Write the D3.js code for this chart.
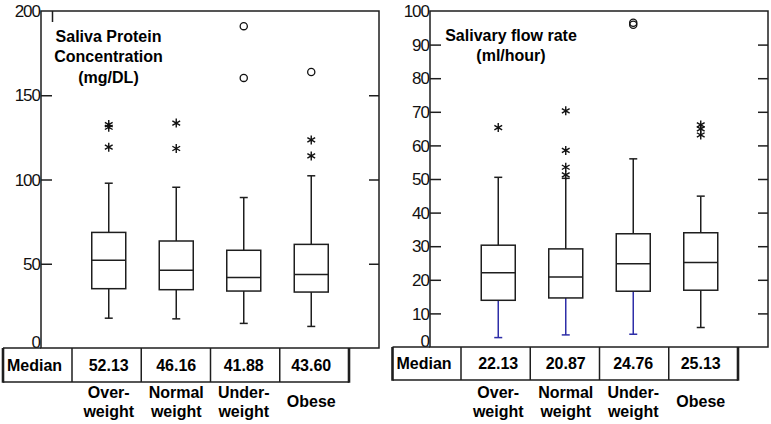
<!DOCTYPE html>
<html><head><meta charset="utf-8">
<script src="https://cdn.jsdelivr.net/npm/d3@7"></script>
<style>body{margin:0;background:#fff}svg{display:block}</style>
</head><body><svg id="chart" width="771" height="424"></svg>
<script>
// ---------- data ----------
const categories = ["Overweight", "Normal weight", "Underweight", "Obese"];
const categoryLines = [["Over-", "weight"], ["Normal", "weight"], ["Under-", "weight"], ["Obese"]];

const proteinTitle = ["Saliva Protein", "Concentration", "(mg/DL)"];
const proteinTicks = [0, 50, 100, 150, 200];
const proteinLow = [17.7, 17.3, 14.6, 12.8];
const proteinQ1 = [35.2, 34.6, 33.8, 33.2];
const proteinMedian = [52.13, 46.16, 41.88, 43.60];
const proteinQ3 = [68.6, 63.5, 58.0, 61.5];
const proteinHigh = [97.8, 95.4, 89.3, 102.2];
const proteinStars = [[132.6, 131.0, 119.2], [133.5, 118.4], [], [123.5, 114.0]];
const proteinCircles = [[], [], [191.0, 160.3], [163.8]];
const proteinMedianLabels = ["52.13", "46.16", "41.88", "43.60"];

const flowTitle = ["Salivary flow rate", "(ml/hour)"];
const flowTicks = [0, 10, 20, 30, 40, 50, 60, 70, 80, 90, 100];
const flowLow = [2.8, 3.6, 3.8, 5.8];
const flowQ1 = [13.9, 14.6, 16.6, 16.9];
const flowMedian = [22.13, 20.87, 24.76, 25.13];
const flowQ3 = [30.3, 29.2, 33.7, 34.0];
const flowHigh = [50.5, 50.2, 56.0, 44.9];
const flowStars = [[65.3], [70.3, 58.5, 53.5, 51.2], [], [66.1, 64.9, 63.1]];
const flowCircles = [[], [], [96.5, 95.9], []];
const flowMedianLabels = ["22.13", "20.87", "24.76", "25.13"];

const medianRowLabel = "Median";

// ---------- drawing ----------
const svg = d3.select("#chart");
const FONT = "'Liberation Sans', Arial, Helvetica, sans-serif";
const INK = "#1e1e1e";
const BLUE = "#2e2ea8";

const asterisk = {
  draw(ctx, size) {
    const r = Math.sqrt(size) * 0.6;
    const t = r / 2, u = t * Math.sqrt(3);
    ctx.moveTo(0, r); ctx.lineTo(0, -r);
    ctx.moveTo(-u, -t); ctx.lineTo(u, t);
    ctx.moveTo(-u, t); ctx.lineTo(u, -t);
  }
};

function drawPanel(cfg) {
  const g = svg.append("g");
  const y = d3.scaleLinear().domain(cfg.domain).range([cfg.yBot, cfg.yTop]);
  const x = d3.scaleBand().domain(categories).range(cfg.boxRange);
  const cx = c => x(c) + x.bandwidth() / 2;
  const tx = d3.scaleBand().domain(categories).range(cfg.tableRange);

  // frame
  g.append("rect").attr("x", cfg.x0).attr("y", cfg.yTop)
    .attr("width", cfg.x1 - cfg.x0).attr("height", cfg.yBot - cfg.yTop)
    .attr("fill", "none").attr("stroke", INK).attr("stroke-width", 1.5);

  // axis ticks (inside) + labels
  const inner = cfg.ticks.filter(t => t !== cfg.domain[0] && t !== cfg.domain[1]);
  const leftAxis = d3.axisRight(y).tickValues(inner).tickSize(11).tickFormat("");
  const la = g.append("g").attr("transform", `translate(${cfg.x0},0)`).call(leftAxis);
  const rightAxis = d3.axisLeft(y).tickValues(inner).tickSize(10).tickFormat("");
  const ra = g.append("g").attr("transform", `translate(${cfg.x1},0)`).call(rightAxis);
  [la, ra].forEach(a => {
    a.select(".domain").remove();
    a.selectAll("line").attr("stroke", INK).attr("stroke-width", 1.5);
  });
  if (cfg.topTick) {
    g.append("line").attr("x1", cfg.topTick).attr("x2", cfg.topTick)
      .attr("y1", cfg.yTop).attr("y2", cfg.yTop + 11)
      .attr("stroke", INK).attr("stroke-width", 1.5);
  }
  g.append("g").selectAll("text").data(cfg.ticks).join("text")
    .attr("x", cfg.x0 - 1)
    .attr("y", d => y(d) + (d === cfg.domain[0] ? -6 : 0))
    .attr("dy", "0.36em")
    .attr("text-anchor", "end")
    .attr("font-family", FONT).attr("font-size", 17).attr("letter-spacing", -1)
    .attr("fill", "#111")
    .text(d => d);

  // title
  g.append("text").attr("font-family", FONT).attr("font-weight", "bold")
    .attr("font-size", 16).attr("fill", "#000").attr("text-anchor", "middle")
    .selectAll("tspan").data(cfg.title).join("tspan")
    .attr("x", cfg.titleX).attr("y", (d, i) => cfg.titleY + i * cfg.titleStep)
    .text(d => d);

  // boxes
  const boxW = 34, capW = 8;
  const data = categories.map((c, i) => ({
    c, i, low: cfg.low[i], q1: cfg.q1[i], med: cfg.median[i], q3: cfg.q3[i], high: cfg.high[i],
    stars: cfg.stars[i], circles: cfg.circles[i]
  }));
  const bg = g.append("g").selectAll("g").data(data).join("g");
  bg.append("line").attr("x1", d => cx(d.c)).attr("x2", d => cx(d.c))
    .attr("y1", d => y(d.q3)).attr("y2", d => y(d.high))
    .attr("stroke", INK).attr("stroke-width", 1.5);
  bg.append("line").attr("x1", d => cx(d.c) - capW / 2).attr("x2", d => cx(d.c) + capW / 2)
    .attr("y1", d => y(d.high)).attr("y2", d => y(d.high))
    .attr("stroke", INK).attr("stroke-width", 1.5);
  bg.append("line").attr("x1", d => cx(d.c)).attr("x2", d => cx(d.c))
    .attr("y1", d => y(d.q1)).attr("y2", d => y(d.low))
    .attr("stroke", d => cfg.lowColor(d.i)).attr("stroke-width", 1.5);
  bg.append("line").attr("x1", d => cx(d.c) - capW / 2).attr("x2", d => cx(d.c) + capW / 2)
    .attr("y1", d => y(d.low)).attr("y2", d => y(d.low))
    .attr("stroke", d => cfg.lowColor(d.i)).attr("stroke-width", 1.5);
  bg.append("rect").attr("x", d => cx(d.c) - boxW / 2).attr("width", boxW)
    .attr("y", d => y(d.q3)).attr("height", d => y(d.q1) - y(d.q3))
    .attr("fill", "#fff").attr("stroke", INK).attr("stroke-width", 1.5);
  bg.append("line").attr("x1", d => cx(d.c) - boxW / 2).attr("x2", d => cx(d.c) + boxW / 2)
    .attr("y1", d => y(d.med)).attr("y2", d => y(d.med))
    .attr("stroke", INK).attr("stroke-width", 1.5);
  const sym = d3.symbol().type(asterisk).size(56);
  bg.selectAll("path.star").data(d => d.stars.map(v => ({ c: d.c, v }))).join("path")
    .attr("class", "star")
    .attr("transform", d => `translate(${cx(d.c)},${y(d.v)})`)
    .attr("d", sym()).attr("fill", "none").attr("stroke", "#111").attr("stroke-width", 1.4);
  bg.selectAll("circle.out").data(d => d.circles.map(v => ({ c: d.c, v }))).join("circle")
    .attr("class", "out")
    .attr("cx", d => cx(d.c)).attr("cy", d => y(d.v)).attr("r", 3.6)
    .attr("fill", "none").attr("stroke", "#111").attr("stroke-width", 1.3);

  // median table
  const tg = g.append("g");
  const tTop = cfg.yBot, tBot = cfg.tableBot;
  tg.append("line").attr("x1", cfg.tableLeft).attr("x2", cfg.x0).attr("y1", tTop).attr("y2", tTop)
    .attr("stroke", INK).attr("stroke-width", 1.5);
  tg.append("line").attr("x1", cfg.tableLeft).attr("x2", cfg.tableRange[1]).attr("y1", tBot).attr("y2", tBot)
    .attr("stroke", INK).attr("stroke-width", 1.5);
  tg.append("line").attr("x1", cfg.tableLeft).attr("x2", cfg.tableLeft).attr("y1", tTop).attr("y2", tBot + 0.75)
    .attr("stroke", INK).attr("stroke-width", 2.6);
  tg.append("line").attr("x1", cfg.tableRange[1]).attr("x2", cfg.tableRange[1]).attr("y1", tTop).attr("y2", tBot + 0.75)
    .attr("stroke", INK).attr("stroke-width", 2.6);
  tg.selectAll("line.sep").data(categories).join("line").attr("class", "sep")
    .attr("x1", d => tx(d)).attr("x2", d => tx(d)).attr("y1", tTop).attr("y2", tBot)
    .attr("stroke", INK).attr("stroke-width", 1.5);
  const tMid = (tTop + tBot) / 2;
  tg.append("text").attr("x", cfg.tableLeft + 4).attr("y", tMid).attr("dy", "0.36em")
    .attr("font-family", FONT).attr("font-weight", "bold").attr("font-size", 16)
    .text(medianRowLabel);
  tg.selectAll("text.val").data(cfg.medianLabels).join("text").attr("class", "val")
    .attr("x", (d, i) => cx(categories[i])).attr("y", tMid).attr("dy", "0.36em")
    .attr("text-anchor", "middle")
    .attr("font-family", FONT).attr("font-weight", "bold").attr("font-size", 16)
    .text(d => d);

  // category labels
  g.append("g").selectAll("text").data(categoryLines).join("text")
    .attr("text-anchor", "middle")
    .attr("font-family", FONT).attr("font-weight", "bold").attr("font-size", 16)
    .each(function (lines, i) {
      d3.select(this).selectAll("tspan").data(lines).join("tspan")
        .attr("x", cx(categories[i]))
        .attr("y", (d, j) => lines.length === 1 ? 407 : 398 + j * 18.5)
        .text(d => d);
    });
}

drawPanel({
  domain: [0, 200], ticks: proteinTicks,
  x0: 41, x1: 379, yTop: 11, yBot: 348, topTick: 52.5,
  boxRange: [75, 345], tableRange: [72, 349], tableLeft: 3, tableBot: 382,
  title: proteinTitle, titleX: 108.5, titleY: 42, titleStep: 20.3,
  low: proteinLow, q1: proteinQ1, median: proteinMedian, q3: proteinQ3, high: proteinHigh,
  stars: proteinStars, circles: proteinCircles, medianLabels: proteinMedianLabels,
  lowColor: () => INK
});

drawPanel({
  domain: [0, 100], ticks: flowTicks,
  x0: 430, x1: 768, yTop: 11, yBot: 347, topTick: null,
  boxRange: [464.5, 734.5], tableRange: [461, 738], tableLeft: 392.5, tableBot: 380,
  title: flowTitle, titleX: 511, titleY: 41, titleStep: 20,
  low: flowLow, q1: flowQ1, median: flowMedian, q3: flowQ3, high: flowHigh,
  stars: flowStars, circles: flowCircles, medianLabels: flowMedianLabels,
  lowColor: i => (i < 3 ? BLUE : INK)
});
</script>
</body></html>
